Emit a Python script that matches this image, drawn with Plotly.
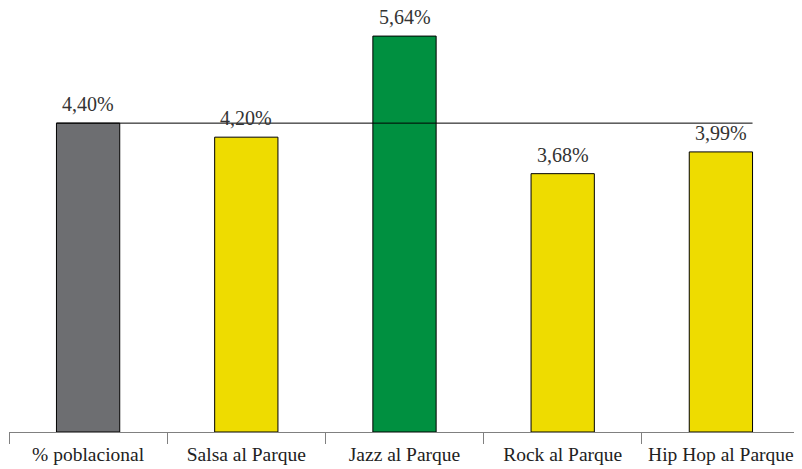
import plotly.graph_objects as go

categories = ["% poblacional", "Salsa al Parque", "Jazz al Parque", "Rock al Parque", "Hip Hop al Parque"]
values = [4.40, 4.20, 5.64, 3.68, 3.99]
labels = ["4,40%", "4,20%", "5,64%", "3,68%", "3,99%"]
colors = ["#6D6E71", "#EEDC00", "#009040", "#EEDC00", "#EEDC00"]
reference_value = 4.40

fig = go.Figure()
fig.add_trace(go.Bar(
    x=categories, y=values,
    marker=dict(color=colors, line=dict(color="#000000", width=1)),
    width=0.4, cliponaxis=False,
))
for cat, val, lab in zip(categories, values, labels):
    fig.add_annotation(x=cat, y=val, text=lab, showarrow=False, yanchor="bottom",
                       yshift=6, font=dict(family="Liberation Serif", size=20, color="#333333"))
fig.add_shape(type="line", xref="x", yref="y", x0=-0.2, x1=4.2,
              y0=reference_value, y1=reference_value,
              line=dict(color="#000000", width=1))
fig.update_layout(
    width=802, height=469, margin=dict(l=1, r=10, t=0, b=45),
    plot_bgcolor="white", paper_bgcolor="white", showlegend=False,
    font=dict(family="Liberation Serif", size=19.5, color="#222222"),
    bargap=0.6,
)
fig.update_xaxes(showline=True, linecolor="#808080", linewidth=1, tickson="boundaries",
                 ticks="outside", ticklen=11, tickcolor="#808080", showgrid=False,
                 automargin=False, ticklabelstandoff=5, tickangle=0)
fig.update_yaxes(range=[0, 6.04], visible=False, showgrid=False, automargin=False)
fig.write_html("out.html")
